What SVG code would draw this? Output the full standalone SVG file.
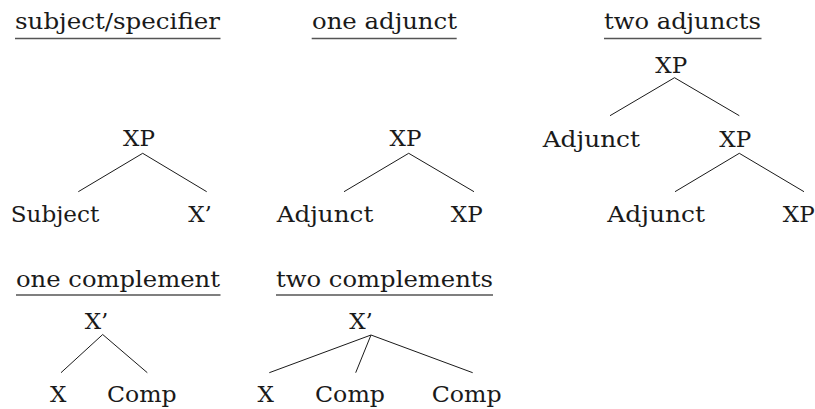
<svg xmlns="http://www.w3.org/2000/svg" width="815" height="409" viewBox="0 0 815 409">
<style>
text{font-family:"DejaVu Serif","Liberation Serif",serif;font-size:23px;fill:#1a1a1a}
.title line{stroke:#555;stroke-width:1.3}
#connectors line{stroke:#1a1a1a;stroke-width:1}
.m{text-anchor:middle}
</style>
<rect width="815" height="409" fill="#fff"/>
<g id="title-subject" class="title"><text x="15" y="29" textLength="205" lengthAdjust="spacingAndGlyphs">subject/specifier</text><line x1="15" y1="38.5" x2="220.5" y2="38.5"/></g>
<g id="title-one-adjunct" class="title"><text x="312" y="29" textLength="145" lengthAdjust="spacingAndGlyphs">one adjunct</text><line x1="311.7" y1="38.5" x2="456.7" y2="38.5"/></g>
<g id="title-two-adjuncts" class="title"><text x="604" y="29" textLength="157" lengthAdjust="spacingAndGlyphs">two adjuncts</text><line x1="604" y1="38.5" x2="761.5" y2="38.5"/></g>
<g id="title-one-complement" class="title"><text x="16" y="286.7" textLength="204" lengthAdjust="spacingAndGlyphs">one complement</text><line x1="16" y1="295" x2="220.5" y2="295"/></g>
<g id="title-two-complements" class="title"><text x="276" y="286.7" textLength="217" lengthAdjust="spacingAndGlyphs">two complements</text><line x1="276" y1="295" x2="493" y2="295"/></g>

<g id="connectors">
<line x1="142.7" y1="153.3" x2="78.3" y2="191.7"/>
<line x1="142.7" y1="153.3" x2="206.7" y2="191.7"/>
<line x1="408.7" y1="153.3" x2="344" y2="191.7"/>
<line x1="408.7" y1="153.3" x2="474" y2="191.7"/>
<line x1="674.5" y1="77.7" x2="610" y2="115.7"/>
<line x1="674.5" y1="77.7" x2="739.3" y2="115.7"/>
<line x1="739.3" y1="153.3" x2="675" y2="191.7"/>
<line x1="739.3" y1="153.3" x2="804" y2="191.7"/>
<line x1="102.7" y1="334.5" x2="61" y2="372.7"/>
<line x1="102.7" y1="334.5" x2="147.3" y2="372.7"/>
<line x1="371" y1="335" x2="269.3" y2="372.7"/>
<line x1="371" y1="335" x2="355.7" y2="372.7"/>
<line x1="371" y1="335" x2="472.7" y2="372.7"/>
</g>

<g id="p1-xp"><text class="m" x="139" y="146">XP</text></g>
<g id="p1-subject"><text x="10.7" y="221.7" textLength="88.6" lengthAdjust="spacingAndGlyphs">Subject</text></g>
<g id="p1-xbar"><text class="m" x="200" y="221.7">X’</text></g>

<g id="p2-xp"><text class="m" x="405.5" y="146">XP</text></g>
<g id="p2-adjunct"><text x="276.7" y="221.7" textLength="96.6" lengthAdjust="spacingAndGlyphs">Adjunct</text></g>
<g id="p2-xp2"><text class="m" x="466.7" y="221.7">XP</text></g>

<g id="p3-xp"><text class="m" x="671.3" y="72.5">XP</text></g>
<g id="p3-adjunct1"><text x="542.7" y="146.5" textLength="97.3" lengthAdjust="spacingAndGlyphs">Adjunct</text></g>
<g id="p3-xp2"><text class="m" x="735.3" y="146.5">XP</text></g>
<g id="p3-adjunct2"><text x="607.3" y="221.7" textLength="97.7" lengthAdjust="spacingAndGlyphs">Adjunct</text></g>
<g id="p3-xp3"><text class="m" x="798.7" y="221.7">XP</text></g>

<g id="p4-xbar"><text class="m" x="96.5" y="329">X’</text></g>
<g id="p4-x"><text class="m" x="58.3" y="401.7">X</text></g>
<g id="p4-comp"><text x="107" y="401.7" textLength="69.7" lengthAdjust="spacingAndGlyphs">Comp</text></g>

<g id="p5-xbar"><text class="m" x="361" y="329">X’</text></g>
<g id="p5-x"><text class="m" x="265.7" y="401.7">X</text></g>
<g id="p5-comp1"><text x="315" y="401.7" textLength="70" lengthAdjust="spacingAndGlyphs">Comp</text></g>
<g id="p5-comp2"><text x="431.7" y="401.7" textLength="70" lengthAdjust="spacingAndGlyphs">Comp</text></g>
</svg>
